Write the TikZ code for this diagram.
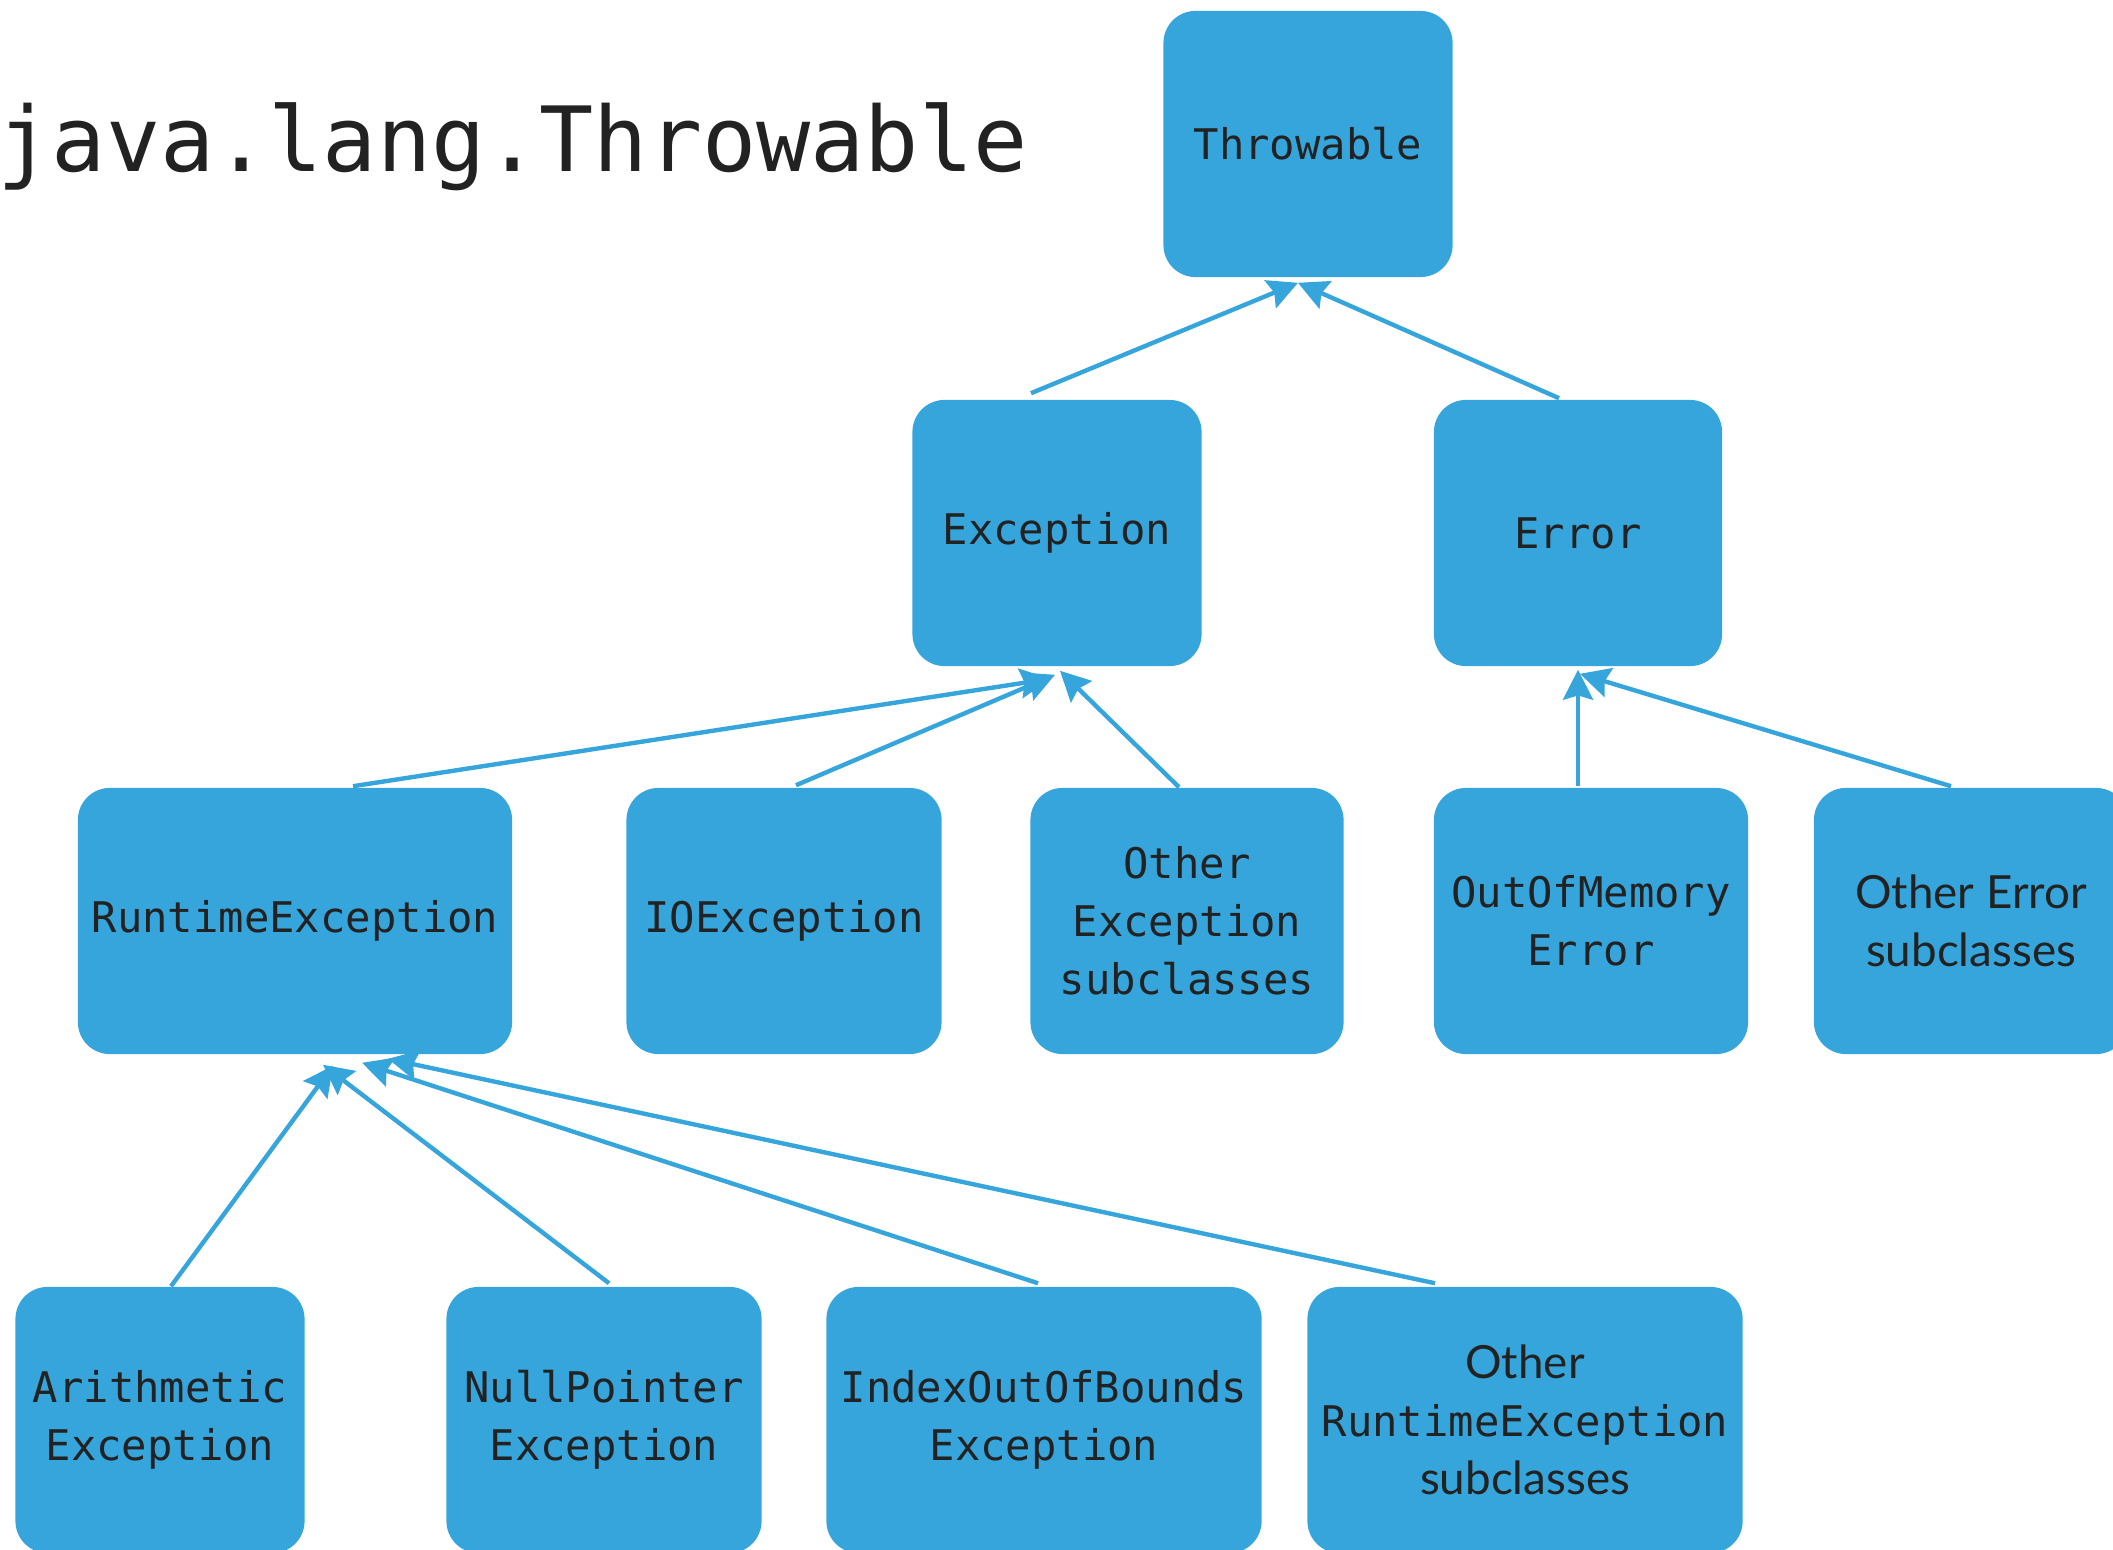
\documentclass[tikz,border=0pt]{standalone}
\usepackage{fontspec}
\newfontfamily\codefont{DejaVu Sans Mono}
\newfontfamily\avenirfont{Lato}
\newcommand{\plainlabel}{\avenirfont\fontsize{13}{16.5}\selectfont}
\definecolor{BoxBlue}{HTML}{36A5DB}
\definecolor{InkGray}{HTML}{222222}
\usetikzlibrary{arrows.meta, calc}

\begin{document}
\begin{tikzpicture}[
  x=0.01cm, y=-0.01cm,
  cls/.style={rectangle, rounded corners=0.32cm, fill=BoxBlue, text=InkGray, align=center,
    inner sep=0pt, minimum height=2.66cm, font=\codefont\fontsize{12}{16.5}\selectfont},
  link/.style={draw=BoxBlue, line width=1.25pt, -{Stealth[length=8.5pt, width=8.5pt, inset=1.2pt]}}
]
  \useasboundingbox (0,0) rectangle (2113,1549);

  \node[anchor=base west, inner sep=0pt, text=InkGray, font=\codefont\fontsize{25.6}{30}\selectfont]
    (title) at (-3,172) {java.lang.Throwable};

  % top
  \node[cls, minimum width=2.89cm] (thr) at (1308,144) {Throwable};
  \node[cls, minimum width=2.89cm] (exc) at (1057,533) {Exception};
  \node[cls, minimum width=2.88cm] (err) at (1578,533) {Error};

  % second row
  \node[cls, minimum width=4.34cm] (rte) at (295,921) {RuntimeException};
  \node[cls, minimum width=3.15cm] (ioe) at (784,921) {IOException};
  \node[cls, minimum width=3.13cm] (oes) at (1187,921) {Other\\Exception\\subclasses};
  \node[cls, minimum width=3.14cm] (oom) at (1591,921) {OutOfMemory\\Error};
  \node[cls, minimum width=3.14cm, font=\plainlabel] (oers) at (1971,921) {Other Error\\subclasses};

  % runtime subclasses
  \node[cls, minimum width=2.89cm] (ari) at (160,1420) {Arithmetic\\Exception};
  \node[cls, minimum width=3.15cm] (npe) at (604,1420) {NullPointer\\Exception};
  \node[cls, minimum width=4.35cm] (ioob) at (1044,1420) {IndexOutOfBounds\\Exception};
  \node[cls, minimum width=4.35cm] (orts) at (1525,1420)
    {{\plainlabel Other}\\RuntimeException\\{\plainlabel subclasses}};

  \foreach \c/\p/\sx/\sy/\ex/\ey in {exc/thr/-26/-6/-10/5, err/thr/-19/-1/-10/5,
      rte/exc/58/-1/-7/12, ioe/exc/12/-2/-2/8, oes/exc/-8/0/3/4,
      oom/err/-13/-1/0/3, oers/err/-20/-1/2/7,
      ari/rte/11/0/38/11, npe/rte/5/-3/28/10, ioob/rte/-6/-3/67/8, orts/rte/-90/-3/93/4}
    \draw[link] ($(\c.north)+(\sx,\sy)$) -- ($(\p.south)+(\ex,\ey)$);
\end{tikzpicture}
\end{document}
